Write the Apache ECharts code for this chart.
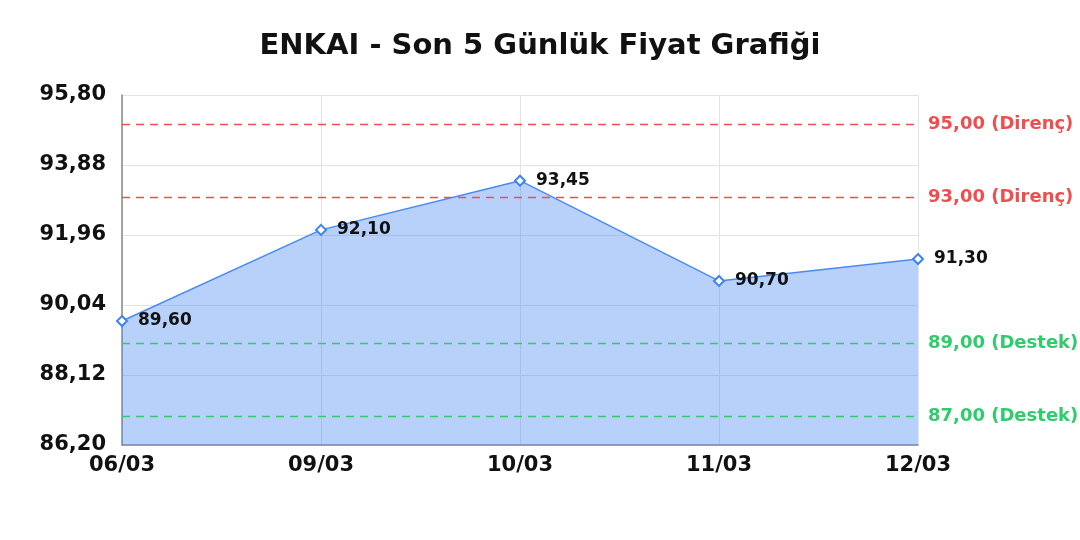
<!DOCTYPE html>
<html><head><meta charset="utf-8">
<script src="https://cdn.jsdelivr.net/npm/echarts@6/dist/echarts.min.js"></script>
<style>html,body{margin:0;padding:0;background:#fff}#c{width:1080px;height:540px}</style>
</head><body><div id="c"></div>
<script>
const categories = ['06/03','09/03','10/03','11/03','12/03'];
const prices = [89.60, 92.10, 93.45, 90.70, 91.30];
const resistance = [95.00, 93.00];
const support = [89.00, 87.00];
const yMin = 86.20, yMax = 95.80, yStep = 1.92;

const fmt = v => v.toFixed(2).replace('.', ',');
const FONT = '"DejaVu Sans", sans-serif';
const RED = '#f04e4e', GREEN = '#2ecc6a';
const markData = [
  ...resistance.map(v => ({yAxis: v, name: 'Direnç', lineStyle:{color:RED}, label:{color:RED, formatter: fmt(v)+' (Direnç)'}})),
  ...support.map(v => ({yAxis: v, name: 'Destek', lineStyle:{color:GREEN}, label:{color:GREEN, formatter: fmt(v)+' (Destek)'}}))
];
const chart = echarts.init(document.getElementById('c'));
chart.setOption({
  animation:false,
  textStyle:{fontFamily:FONT},
  title:{text:'ENKAI - Son 5 Günlük Fiyat Grafiği', left:'center', top:27,
    textStyle:{fontFamily:FONT, fontWeight:'bold', fontSize:29, color:'#111'}},
  grid:{left:122, right:162, top:95, bottom:95},
  xAxis:{type:'category', data:categories, boundaryGap:false,
    axisLine:{lineStyle:{color:'#888', width:1.5}}, axisTick:{show:false},
    axisLabel:{fontFamily:FONT, fontWeight:'bold', fontSize:21, color:'#111', margin:10},
    splitLine:{show:true, lineStyle:{color:'#e3e3e3'}}},
  yAxis:{type:'value', min:yMin, max:yMax, interval:yStep,
    axisLine:{show:true, lineStyle:{color:'#888', width:1.5}}, axisTick:{show:false},
    axisLabel:{fontFamily:FONT, fontWeight:'bold', fontSize:21, color:'#111', margin:16, formatter:fmt},
    splitLine:{lineStyle:{color:'#e3e3e3'}}},
  series:[{
    type:'line', data:prices, symbol:'diamond', symbolSize:10,
    itemStyle:{color:'#fff', borderColor:'#3b82f6', borderWidth:2},
    lineStyle:{color:'#4a8af4', width:1.5},
    areaStyle:{color:'rgba(66,133,244,0.38)', opacity:1},
    label:{show:true, position:'right', distance:10, formatter:p=>fmt(p.value),
      fontFamily:FONT, fontWeight:'bold', fontSize:17, color:'#111'},
    markLine:{symbol:'none', silent:true,
      lineStyle:{type:[8,6], width:1.3},
      label:{position:'end', fontFamily:FONT, fontWeight:'bold', fontSize:18, distance:10},
      data:markData}
  }]
});
</script></body></html>
